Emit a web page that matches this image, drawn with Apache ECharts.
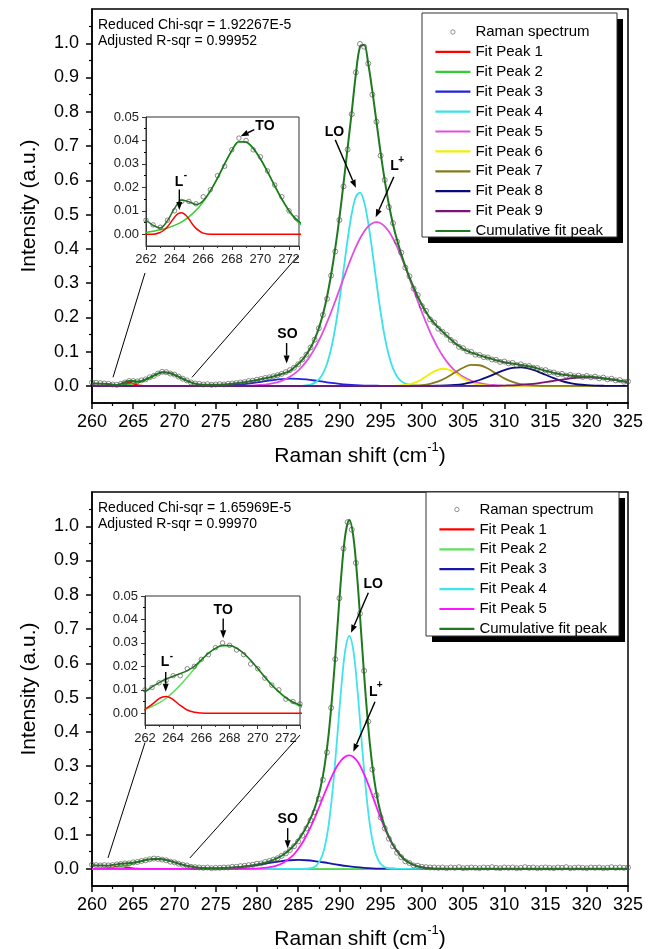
<!DOCTYPE html>
<html><head><meta charset="utf-8">
<script src="https://cdn.jsdelivr.net/npm/echarts@6/dist/echarts.min.js"></script>
<style>html,body{margin:0;padding:0;background:#fff}#c{width:657px;height:949px}</style>
</head><body><div id="c"></div>
<script>
// ---------------- DATA ----------------
const xTicksMain = [260, 325, 5];          // min, max, step of main Raman shift axes
const yLabelsMain = [0, 0.1, 0.2, 0.3, 0.4, 0.5, 0.6, 0.7, 0.8, 0.9, 1.0];
const yMinorMain = [0.05, 0.15, 0.25, 0.35, 0.45, 0.55, 0.65, 0.75, 0.85, 0.95, 1.05];
const yLabelsInset = [0, 0.01, 0.02, 0.03, 0.04, 0.05];
const yMinorInset = [0.005, 0.015, 0.025, 0.035, 0.045];

// Raman spectrum (top): 260 .. 325 step 0.5
const specStart = 260, specStep = 0.5;
const topSpectrum = [
0.010,0.009,0.008,0.007,0.006,0.004,0.003,0.006,0.010,0.014,
0.014,0.013,0.016,0.019,0.025,0.029,0.036,0.041,0.040,0.036,
0.033,0.027,0.021,0.016,0.010,0.007,0.006,0.004,0.005,0.003,
0.004,0.005,0.004,0.006,0.007,0.008,0.010,0.011,0.014,0.015,
0.018,0.020,0.023,0.025,0.028,0.031,0.035,0.040,0.046,0.053,
0.063,0.077,0.091,0.112,0.135,0.168,0.207,0.254,0.322,0.392,
0.484,0.582,0.690,0.793,0.915,0.998,0.990,0.941,0.850,0.771,
0.672,0.601,0.522,0.475,0.421,0.389,0.345,0.320,0.284,0.265,
0.233,0.219,0.194,0.185,0.167,0.158,0.149,0.134,0.127,0.114,
0.110,0.101,0.099,0.091,0.090,0.084,0.083,0.077,0.076,0.070,
0.071,0.066,0.067,0.061,0.063,0.058,0.058,0.053,0.052,0.046,
0.046,0.040,0.039,0.034,0.035,0.030,0.032,0.028,0.030,0.026,
0.029,0.025,0.027,0.022,0.024,0.019,0.021,0.016,0.017,0.012,
0.013];

const topPeak1 = [[260,0],[262.5,0],[263,0.0008],[263.25,0.0017],[263.5,0.0032],[263.75,0.0052],[264,0.0073],[264.25,0.0088],[264.5,0.0092],[264.75,0.0083],[265,0.0065],[265.25,0.0043],[265.5,0.0025],[265.75,0.0013],[266,0.0005],[266.5,0],[325,0]];
const topPeak2 = [[260,0],[261,0.0003],[262,0.0008],[262.5,0.0013],[263,0.0019],[263.5,0.0027],[264,0.0038],[264.5,0.0053],[265,0.0074],[265.5,0.0102],[266,0.0138],[266.5,0.0184],[267,0.0238],[267.5,0.0300],[268,0.0356],[268.5,0.0395],[269,0.0392],[269.5,0.0365],[270,0.0320],[270.5,0.0265],[271,0.0205],[271.5,0.0148],[272,0.0098],[272.5,0.0060],[273,0.0034],[273.5,0.0018],[274,0.0009],[275,0.0002],[276,0],[325,0]];
const topPeak3 = [[260,0],[273,0],[274,0.0003],[275,0.0007],[276,0.0013],[277,0.0025],[278,0.0043],[279,0.0068],[280,0.0100],[281,0.0136],[282,0.0170],[283,0.0196],[284,0.0209],[285,0.0206],[286,0.0187],[287,0.0157],[288,0.0121],[289,0.0087],[290,0.0057],[291,0.0035],[292,0.0020],[293,0.0010],[294,0.0005],[295,0.0002],[296,0],[325,0]];
const topPeak4 = [[260,0],[285.5,0],[286,0.0016],[286.5,0.0039],[287,0.0088],[287.5,0.0183],[288,0.0355],[288.5,0.0643],[289,0.1084],[289.5,0.170],[290,0.248],[290.5,0.337],[291,0.427],[291.5,0.503],[292,0.552],[292.5,0.564],[293,0.537],[293.5,0.475],[294,0.392],[294.5,0.301],[295,0.215],[295.5,0.143],[296,0.0888],[296.5,0.0512],[297,0.0275],[297.5,0.0137],[298,0.0064],[298.5,0.0028],[299,0.0011],[299.5,0],[325,0]];
const topPeak5 = [[260,0],[279,0],[280,0.0019],[281,0.0039],[282,0.0078],[283,0.0147],[284,0.0263],[285,0.0444],[285.5,0.0568],[286,0.0714],[286.5,0.0887],[287,0.1088],[287.5,0.1317],[288,0.157],[288.5,0.1854],[289,0.2157],[289.5,0.2475],[290,0.2805],[290.5,0.3137],[291,0.3463],[291.5,0.377],[292,0.4055],[292.5,0.430],[293,0.4505],[293.5,0.4656],[294,0.4748],[294.5,0.478],[295,0.4748],[295.5,0.4656],[296,0.4505],[296.5,0.430],[297,0.4055],[297.5,0.377],[298,0.3463],[298.5,0.3137],[299,0.2805],[299.5,0.2475],[300,0.2157],[300.5,0.1854],[301,0.157],[301.5,0.1317],[302,0.1088],[302.5,0.0887],[303,0.0714],[303.5,0.0568],[304,0.0444],[305,0.0263],[306,0.0147],[307,0.0078],[308,0.0039],[309,0.0019],[310,0],[325,0]];
const topPeak6 = [[260,0],[296.5,0],[297,0.0006],[297.5,0.0014],[298,0.0026],[298.5,0.0048],[299,0.0083],[299.5,0.0132],[300,0.0196],[300.5,0.0271],[301,0.0350],[301.5,0.0423],[302,0.0476],[302.5,0.0499],[303,0.0489],[303.5,0.0447],[304,0.0381],[304.5,0.0303],[305,0.0225],[305.5,0.0156],[306,0.0100],[306.5,0.0060],[307,0.0034],[307.5,0.0018],[308,0.0009],[309,0],[325,0]];
const topPeak7 = [[260,0],[298,0],[299,0.0008],[300,0.0023],[301,0.0060],[302,0.0132],[303,0.0246],[304,0.0391],[305,0.0530],[306,0.0612],[307,0.0602],[308,0.0505],[309,0.0361],[310,0.0220],[311,0.0114],[312,0.0050],[313,0.0019],[314,0.0006],[315,0],[325,0]];
const topPeak8 = [[260,0],[301,0],[302,0.0004],[303,0.0011],[304,0.0026],[305,0.0054],[306,0.0101],[307,0.0171],[308,0.0262],[309,0.0365],[310,0.0459],[311,0.0523],[312,0.0539],[313,0.0502],[314,0.0424],[315,0.0324],[316,0.0224],[317,0.0140],[318,0.0079],[319,0.0040],[320,0.0019],[321,0.0008],[322,0.0003],[323,0],[325,0]];
const topPeak9 = [[260,0],[309,0],[310,0.0009],[311,0.0017],[312,0.0030],[313,0.0049],[314,0.0075],[315,0.0109],[316,0.0147],[317,0.0185],[318,0.0219],[319,0.0242],[320,0.0250],[321,0.0242],[322,0.0219],[323,0.0185],[324,0.0147],[325,0.0109]];
const topCumulative = [[260,0.0070],[261,0.0065],[262,0.0058],[262.5,0.0038],[263,0.0027],[263.5,0.0058],[264,0.0111],[264.5,0.0145],[265,0.0139],[265.5,0.0127],[266,0.0143],[266.5,0.0186],[267,0.0240],[267.5,0.0300],[268,0.0357],[268.5,0.0395],[269,0.0393],[269.5,0.0367],[270,0.0322],[270.5,0.0267],[271,0.0208],[271.5,0.0151],[272,0.0102],[272.5,0.0065],[273,0.0042],[274,0.0030],[275,0.0030],[276,0.0040],[277,0.0062],[278,0.0092],[279,0.0128],[280,0.0170],[281,0.0220],[282,0.0275],[283,0.0345],[284,0.0440],[285,0.0640],[285.5,0.0760],[286,0.0920],[286.5,0.1110],[287,0.1360],[287.5,0.1680],[288,0.2080],[288.5,0.2600],[289,0.3250],[289.5,0.4020],[290,0.4900],[290.5,0.5900],[291,0.6950],[291.5,0.8000],[292,0.9100],[292.5,0.9900],[293,0.9950],[293.5,0.9400],[294,0.8600],[294.5,0.7700],[295,0.6800],[295.5,0.6000],[296,0.5300],[296.5,0.4720],[297,0.4250],[297.5,0.3850],[298,0.3490],[298.5,0.3170],[299,0.2880],[299.5,0.2610],[300,0.2370],[300.5,0.2160],[301,0.1970],[301.5,0.1830],[302,0.1700],[303,0.1470],[304,0.1250],[305,0.1080],[306,0.0970],[307,0.0890],[308,0.0820],[309,0.0750],[310,0.0690],[311,0.0650],[312,0.0610],[313,0.0570],[314,0.0510],[315,0.0440],[316,0.0380],[317,0.0330],[318,0.0300],[319,0.0280],[320,0.0270],[321,0.0250],[322,0.0220],[323,0.0190],[324,0.0150],[325,0.0110]];

// Raman spectrum (bottom): 260 .. 325 step 0.5
const botSpectrum = [
0.012,0.011,0.010,0.011,0.010,0.011,0.013,0.014,0.016,0.016,
0.019,0.020,0.023,0.025,0.028,0.030,0.029,0.027,0.025,0.021,
0.019,0.015,0.012,0.010,0.006,0.005,0.004,0.003,0.004,0.002,
0.003,0.003,0.004,0.004,0.006,0.006,0.008,0.009,0.011,0.012,
0.015,0.016,0.020,0.023,0.027,0.031,0.038,0.045,0.055,0.066,
0.080,0.097,0.118,0.142,0.165,0.205,0.260,0.340,0.470,0.612,
0.790,0.935,1.012,0.990,0.893,0.745,0.578,0.430,0.290,0.215,
0.150,0.118,0.088,0.066,0.047,0.034,0.022,0.017,0.010,0.009,
0.006,0.005,0.004,0.004,0.003,0.004,0.002,0.004,0.003,0.005,
0.002,0.003,0.004,0.003,0.002,0.004,0.003,0.005,0.003,0.002,
0.004,0.003,0.004,0.002,0.003,0.005,0.003,0.004,0.002,0.003,
0.004,0.003,0.002,0.004,0.003,0.005,0.002,0.003,0.004,0.003,
0.002,0.004,0.003,0.004,0.002,0.003,0.005,0.003,0.004,0.003,
0.004];

const botPeak1 = [[260,0],[261,0.0001],[261.5,0.0005],[262,0.0017],[262.5,0.0038],[263,0.0062],[263.25,0.0069],[263.5,0.0071],[263.75,0.0067],[264,0.0058],[264.5,0.0034],[265,0.0014],[265.5,0.0004],[266,0.0001],[266.5,0],[325,0]];
const botPeak2 = [[260,0.0002],[261,0.0006],[261.5,0.0011],[262,0.0018],[262.5,0.0029],[263,0.0044],[263.5,0.0064],[264,0.0090],[264.5,0.0120],[265,0.0154],[265.5,0.0190],[266,0.0225],[266.5,0.0255],[267,0.0277],[267.5,0.0288],[268,0.0288],[268.5,0.0277],[269,0.0255],[269.5,0.0225],[270,0.0190],[270.5,0.0154],[271,0.0120],[271.5,0.0090],[272,0.0064],[272.5,0.0044],[273,0.0029],[273.5,0.0018],[274,0.0011],[275,0.0004],[276,0.0001],[277,0],[325,0]];
const botPeak3 = [[260,0],[273,0],[274,0.0005],[275,0.0009],[276,0.0017],[277,0.0031],[278,0.0051],[279,0.0078],[280,0.0113],[281,0.0153],[282,0.0193],[283,0.0228],[284,0.0251],[285,0.0260],[286,0.0251],[287,0.0228],[288,0.0193],[289,0.0153],[290,0.0113],[291,0.0078],[292,0.0051],[293,0.0031],[294,0.0017],[295,0.0009],[296,0.0005],[297,0.0002],[298,0],[325,0]];
const botPeak4 = [[260,0],[285.2,0],[285.7,0.0002],[286.2,0.0009],[286.7,0.0031],[287.2,0.0095],[287.7,0.0259],[288.2,0.0617],[288.7,0.128],[289.2,0.234],[289.7,0.373],[290.2,0.521],[290.7,0.636],[291.2,0.680],[291.7,0.636],[292.2,0.521],[292.7,0.373],[293.2,0.234],[293.7,0.128],[294.2,0.0617],[294.7,0.0259],[295.2,0.0095],[295.7,0.0031],[296.2,0.0009],[296.7,0.0002],[297.2,0],[325,0]];
const botPeak5 = [[260,0],[278.2,0],[279.2,0.0005],[280.2,0.0014],[281.2,0.0035],[282.2,0.0083],[283.2,0.0180],[284.2,0.0357],[284.7,0.0485],[285.2,0.0644],[285.7,0.0837],[286.2,0.1063],[286.7,0.1319],[287.2,0.1599],[287.7,0.1896],[288.2,0.2199],[288.7,0.2491],[289.2,0.2760],[289.7,0.2988],[290.2,0.3163],[290.7,0.3273],[291.2,0.3310],[291.7,0.3264],[292.2,0.3131],[292.7,0.2921],[293.2,0.2650],[293.7,0.2339],[294.2,0.2008],[294.7,0.1676],[295.2,0.1361],[295.7,0.1075],[296.2,0.0826],[296.7,0.0616],[297.2,0.0448],[297.7,0.0316],[298.2,0.0218],[299.2,0.0095],[300.2,0.0037],[301.2,0.0013],[302.2,0.0004],[303.2,0],[325,0]];
const botCumulative = [[260,0.0105],[261,0.0098],[262,0.0094],[262.5,0.0113],[263,0.0131],[263.5,0.0146],[264,0.0158],[264.5,0.0169],[265,0.0182],[265.5,0.0200],[266,0.0228],[266.5,0.0256],[267,0.0277],[267.5,0.0289],[268,0.0289],[268.5,0.0278],[269,0.0256],[269.5,0.0226],[270,0.0191],[270.5,0.0155],[271,0.0121],[271.5,0.0092],[272,0.0067],[272.5,0.0048],[273,0.0035],[273.5,0.0026],[274,0.0019],[275,0.0017],[276,0.0025],[277,0.0039],[278,0.0058],[279,0.0083],[280.2,0.0135],[281.2,0.0196],[282.2,0.0283],[283.2,0.0413],[284.2,0.0612],[284.7,0.0744],[285.2,0.0904],[285.7,0.1095],[286.2,0.1320],[286.7,0.1586],[287.2,0.1915],[287.7,0.2359],[288.2,0.3001],[288.7,0.3936],[289.2,0.5244],[289.7,0.6843],[290.2,0.8479],[290.7,0.9721],[291.2,1.0182],[291.7,0.9682],[292.2,0.8387],[292.7,0.6687],[293.2,0.5018],[293.7,0.3640],[294.2,0.2640],[294.7,0.1946],[295.2,0.1464],[295.7,0.1112],[296.2,0.0839],[296.7,0.0621],[297.2,0.0450],[297.7,0.0317],[298.2,0.0219],[299.2,0.0096],[300.2,0.0037],[301.2,0.0013],[302.2,0.0004],[303.2,0],[325,0]];

const topStats = ['Reduced Chi-sqr = 1.92267E-5', 'Adjusted R-sqr = 0.99952'];
const botStats = ['Reduced Chi-sqr = 1.65969E-5', 'Adjusted R-sqr = 0.99970'];
const topLegendNames = ['Raman spectrum','Fit Peak 1','Fit Peak 2','Fit Peak 3','Fit Peak 4','Fit Peak 5','Fit Peak 6','Fit Peak 7','Fit Peak 8','Fit Peak 9','Cumulative fit peak'];
const botLegendNames = ['Raman spectrum','Fit Peak 1','Fit Peak 2','Fit Peak 3','Fit Peak 4','Fit Peak 5','Cumulative fit peak'];

// ---------------- STYLE ----------------
const FONT = '"Liberation Sans", Arial, Helvetica, sans-serif';
const colTop = ['#ff0000','#33cc33','#2222e0','#38e2e8','#e050e0','#f0f000','#867a1c','#0a0a80','#7a147a'];
const colBot = ['#ff0000','#5ee05e','#1818a8','#40e4ea','#ff14ff'];
const colCum = '#1f7a1f';
const topPeaks = [topPeak1,topPeak2,topPeak3,topPeak4,topPeak5,topPeak6,topPeak7,topPeak8,topPeak9];
const botPeaks = [botPeak1,botPeak2,botPeak3,botPeak4,botPeak5];

function spec(vals){ return vals.map((v,i)=>[specStart + i*specStep, v]); }

const chart = echarts.init(document.getElementById('c'), null, {renderer:'canvas'});

function grid(l,t,w,h,inset){
  return {left:l, top:t, width:w, height:h, show:true, containLabel:false, outerBoundsMode:'none',
    borderColor: inset ? '#333' : '#000', borderWidth: inset ? 1 : 1.5, backgroundColor: inset ? '#fff' : 'transparent'};
}
const grids = [grid(92,9,536,394,false), grid(92,492,536,394,false), grid(146,117,153,129,true), grid(145,596,155,129,true)];

function mainX(gi){
  return {type:'value', gridIndex:gi, min:xTicksMain[0], max:xTicksMain[1], interval:xTicksMain[2],
    axisLine:{show:true, onZero:false, lineStyle:{color:'#000', width:1.5}},
    axisTick:{show:true, inside:false, length:6, lineStyle:{color:'#000', width:1.5}},
    minorTick:{show:true, splitNumber:2, length:3, lineStyle:{color:'#000', width:1.2}},
    splitLine:{show:false}, minorSplitLine:{show:false},
    axisLabel:{fontSize:18, color:'#000', fontFamily:FONT, margin:10},
    name:'{a|Raman shift (cm}{b|-1}{a|)}', nameLocation:'middle', nameGap:38,
    nameTextStyle:{rich:{a:{fontSize:21, fontFamily:FONT, color:'#000', lineHeight:26, verticalAlign:'bottom'},
                          b:{fontSize:13, fontFamily:FONT, color:'#000', lineHeight:14, verticalAlign:'top'}}}};
}
function mainY(gi){
  return {type:'value', gridIndex:gi, min:-0.05, max:1.1, position:'left',
    axisLine:{show:true, onZero:false, lineStyle:{color:'#000', width:1.5}},
    axisTick:{show:true, length:6, customValues:yLabelsMain, lineStyle:{color:'#000', width:1.5}},
    axisLabel:{customValues:yLabelsMain, formatter:v=>v.toFixed(1), fontSize:18, color:'#000', fontFamily:FONT, margin:13},
    splitLine:{show:false},
    name:'Intensity (a.u.)', nameLocation:'middle', nameGap:52,
    nameTextStyle:{fontSize:21, fontFamily:FONT, color:'#000'}};
}
function minorY(gi, min, max, vals, len){
  return {type:'value', gridIndex:gi, min:min, max:max, position:'left', offset:0,
    axisLine:{show:false, onZero:false}, axisTick:{show:true, length:len, customValues:vals, lineStyle:{color:'#000', width:1.2}},
    axisLabel:{show:false}, splitLine:{show:false}};
}
function insetX(gi, max){
  return {type:'value', gridIndex:gi, min:262, max:max, interval:2,
    axisLine:{show:true, onZero:false, lineStyle:{color:'#333', width:1}},
    axisTick:{show:true, length:4, lineStyle:{color:'#333', width:1}},
    minorTick:{show:true, splitNumber:2, length:2, lineStyle:{color:'#333', width:1}},
    splitLine:{show:false}, minorSplitLine:{show:false},
    axisLabel:{fontSize:13, color:'#222', fontFamily:FONT, margin:7}};
}
function insetY(gi){
  return {type:'value', gridIndex:gi, min:-0.005, max:0.05, position:'left',
    axisLine:{show:true, onZero:false, lineStyle:{color:'#333', width:1}},
    axisTick:{show:true, length:4, customValues:yLabelsInset, lineStyle:{color:'#333', width:1}},
    axisLabel:{customValues:yLabelsInset, formatter:v=>v.toFixed(2), fontSize:13, color:'#222', fontFamily:FONT, margin:7},
    splitLine:{show:false}};
}

function lineS(name, data, color, xi, yi, width, z){
  return {type:'line', name, data, xAxisIndex:xi, yAxisIndex:yi, symbol:'none', showSymbol:false,
    smooth:0.35, lineStyle:{color, width}, itemStyle:{color}, z, silent:true, animation:false, clip:true};
}
function scatS(name, data, xi, yi, size){
  return {type:'scatter', name, data, xAxisIndex:xi, yAxisIndex:yi, symbol:'circle', symbolSize:size,
    itemStyle:{color:'rgba(0,0,0,0)', borderColor:'#4a4a4a', borderWidth:0.8}, z:10, silent:true, animation:false, clip:true};
}

const series = [];
// top main
series.push(scatS('Raman spectrum', spec(topSpectrum), 0, 0, 5));
topPeaks.forEach((p,i)=>series.push(lineS('Fit Peak '+(i+1), p, colTop[i], 0, 0, 1.8, 3)));
series.push(lineS('Cumulative fit peak', topCumulative, colCum, 0, 0, 2, 4));
// bottom main
series.push(scatS('Raman spectrum', spec(botSpectrum), 1, 2, 5));
botPeaks.forEach((p,i)=>series.push(lineS('Fit Peak '+(i+1), p, colBot[i], 1, 2, 1.8, 3)));
series.push(lineS('Cumulative fit peak', botCumulative, colCum, 1, 2, 2, 4));
// top inset
series.push(scatS('inset spectrum top', spec(topSpectrum), 2, 4, 4.5));
series.push(lineS('inset peak2 top', topPeak2, colTop[1], 2, 4, 1.5, 3));
series.push(lineS('inset peak1 top', topPeak1, colTop[0], 2, 4, 1.5, 3));
series.push(lineS('inset cum top', topCumulative, colCum, 2, 4, 1.5, 4));
// bottom inset
series.push(scatS('inset spectrum bot', spec(botSpectrum), 3, 6, 4.5));
series.push(lineS('inset peak2 bot', botPeak2, colBot[1], 3, 6, 1.5, 3));
series.push(lineS('inset peak1 bot', botPeak1, colBot[0], 3, 6, 1.5, 3));
series.push(lineS('inset cum bot', botCumulative, colCum, 3, 6, 1.5, 4));

const CIRCLE_ICON = 'path://M0,0M35,14M15.3,7a2.2,2.2 0 1,0 4.4,0a2.2,2.2 0 1,0 -4.4,0z';
const LINE_ICON = 'path://M0,0M35,14M0,5.9L35,5.9L35,8.1L0,8.1Z';
function legendData(names, cols){
  return names.map((n,i)=>{
    if (n === 'Raman spectrum') return {name:n, icon:CIRCLE_ICON, itemStyle:{color:'#fff', borderColor:'#555', borderWidth:0.8}};
    const c = n === 'Cumulative fit peak' ? colCum : cols[i-1];
    return {name:n, icon:LINE_ICON, itemStyle:{color:c, borderWidth:0}};
  });
}
function legend(left, top, names, cols, pad){
  return {left, top, orient:'vertical', itemWidth:35, itemHeight:14, itemGap:4.9, padding:pad, z:6,
    backgroundColor:'transparent', borderWidth:0,
    selectedMode:false, textStyle:{fontSize:15, color:'#000', fontFamily:FONT},
    data: legendData(names, cols)};
}
const legendBoxes = [[422, 13, 195, 224], [426, 492, 193, 144]];

chart.setOption({
  animation:false,
  textStyle:{fontFamily:FONT},
  grid: grids,
  xAxis:[mainX(0), mainX(1), insetX(2, 272.7), insetX(3, 273)],
  yAxis:[mainY(0), minorY(0,-0.05,1.1,yMinorMain,3), mainY(1), minorY(1,-0.05,1.1,yMinorMain,3),
         insetY(2), minorY(2,-0.005,0.05,yMinorInset,2), insetY(3), minorY(3,-0.005,0.05,yMinorInset,2)],
  legend:[legend(422, 13, topLegendNames, colTop, [11.5,13,10,13]), legend(426, 492, botLegendNames, colBot, [10,13,8,13])],
  series
});

// ---------------- ANNOTATIONS ----------------
const annotations = [
  {g:0, text:'LO', at:[289.4,0.742], from:[289.5,0.718], to:[292.0,0.578]},
  {g:0, text:'L', sup:'+', at:[296.7,0.64], from:[296.6,0.610], to:[294.4,0.492]},
  {g:0, text:'SO', at:[283.7,0.151], from:[283.6,0.125], to:[283.6,0.065]},
  {g:2, text:'TO', at:[270.32,0.0462], from:[269.57,0.0446], to:[268.62,0.0418]},
  {g:2, text:'L', sup:'-', at:[264.31,0.0224], from:[264.33,0.0191], to:[264.33,0.0103]},
  {g:1, text:'LO', at:[294.11,0.831], from:[293.51,0.806], to:[291.41,0.689]},
  {g:1, text:'L', sup:'+', at:[294.11,0.517], from:[294.32,0.488], to:[291.69,0.342]},
  {g:1, text:'SO', at:[283.73,0.145], from:[283.73,0.119], to:[283.73,0.060]},
  {g:3, text:'TO', at:[267.55,0.044], from:[267.55,0.0404], to:[267.55,0.032]},
  {g:3, text:'L', sup:'-', at:[263.42,0.0218], from:[263.47,0.0176], to:[263.47,0.0092]}
];
const zoomLines = [
  {g0:0, p0:[262.55,0.025], g1:2, p1:[261.93,-0.0165]},
  {g0:0, p0:[272.13,0.025], g1:2, p1:[272.63,-0.0092]},
  {g0:1, p0:[261.94,0.032], g1:3, p1:[262.0,-0.0125]},
  {g0:1, p0:[271.88,0.032], g1:3, p1:[273.0,-0.0093]}
];
function px(g, p){ return chart.convertToPixel({gridIndex:g}, p); }
function arrow(a, b){
  const head = 8, w = 3;
  const dx=b[0]-a[0], dy=b[1]-a[1], L=Math.hypot(dx,dy), ux=dx/L, uy=dy/L;
  const bx=b[0]-ux*head, by=b[1]-uy*head;
  return [
    {type:'line', silent:true, z:100, shape:{x1:a[0],y1:a[1],x2:bx,y2:by}, style:{stroke:'#000', lineWidth:1.4}},
    {type:'polygon', silent:true, z:100, shape:{points:[[b[0],b[1]],[bx-uy*w,by+ux*w],[bx+uy*w,by-ux*w]]}, style:{fill:'#000'}}
  ];
}
const gfx = [];
legendBoxes.forEach(([x,y,w,h])=>{
  gfx.push({type:'rect', silent:true, z:1, shape:{x:x+6, y:y+6, width:w, height:h}, style:{fill:'#000'}});
  gfx.push({type:'rect', silent:true, z:2, shape:{x:x, y:y, width:w, height:h}, style:{fill:'#fff', stroke:'#333', lineWidth:1}});
});
annotations.forEach(a=>{
  const p = px(a.g, a.at);
  gfx.push({type:'text', silent:true, z:100, x:p[0], y:p[1],
    style:{text:a.text, fontSize:14, fontWeight:'bold', fontFamily:FONT, fill:'#000', align:'center', verticalAlign:'middle'}});
  if (a.sup) gfx.push({type:'text', silent:true, z:100, x:p[0]+6.5, y:p[1]-6,
    style:{text:a.sup, fontSize:10, fontWeight:'bold', fontFamily:FONT, fill:'#000', align:'center', verticalAlign:'middle'}});
  gfx.push(...arrow(px(a.g, a.from), px(a.g, a.to)));
});
zoomLines.forEach(z=>{
  const a = px(z.g0, z.p0), b = px(z.g1, z.p1);
  gfx.push({type:'line', silent:true, z:100, shape:{x1:a[0],y1:a[1],x2:b[0],y2:b[1]}, style:{stroke:'#000', lineWidth:1}});
});
[[topStats, 0, 25], [botStats, 1, 508]].forEach(([lines, g, y0])=>{
  lines.forEach((t,i)=>gfx.push({type:'text', silent:true, z:100, x:98, y:y0 + i*16.5,
    style:{text:t, fontSize:14, fontFamily:FONT, fill:'#000', align:'left', verticalAlign:'middle'}}));
});
chart.setOption({graphic: gfx});
</script>
</body></html>
